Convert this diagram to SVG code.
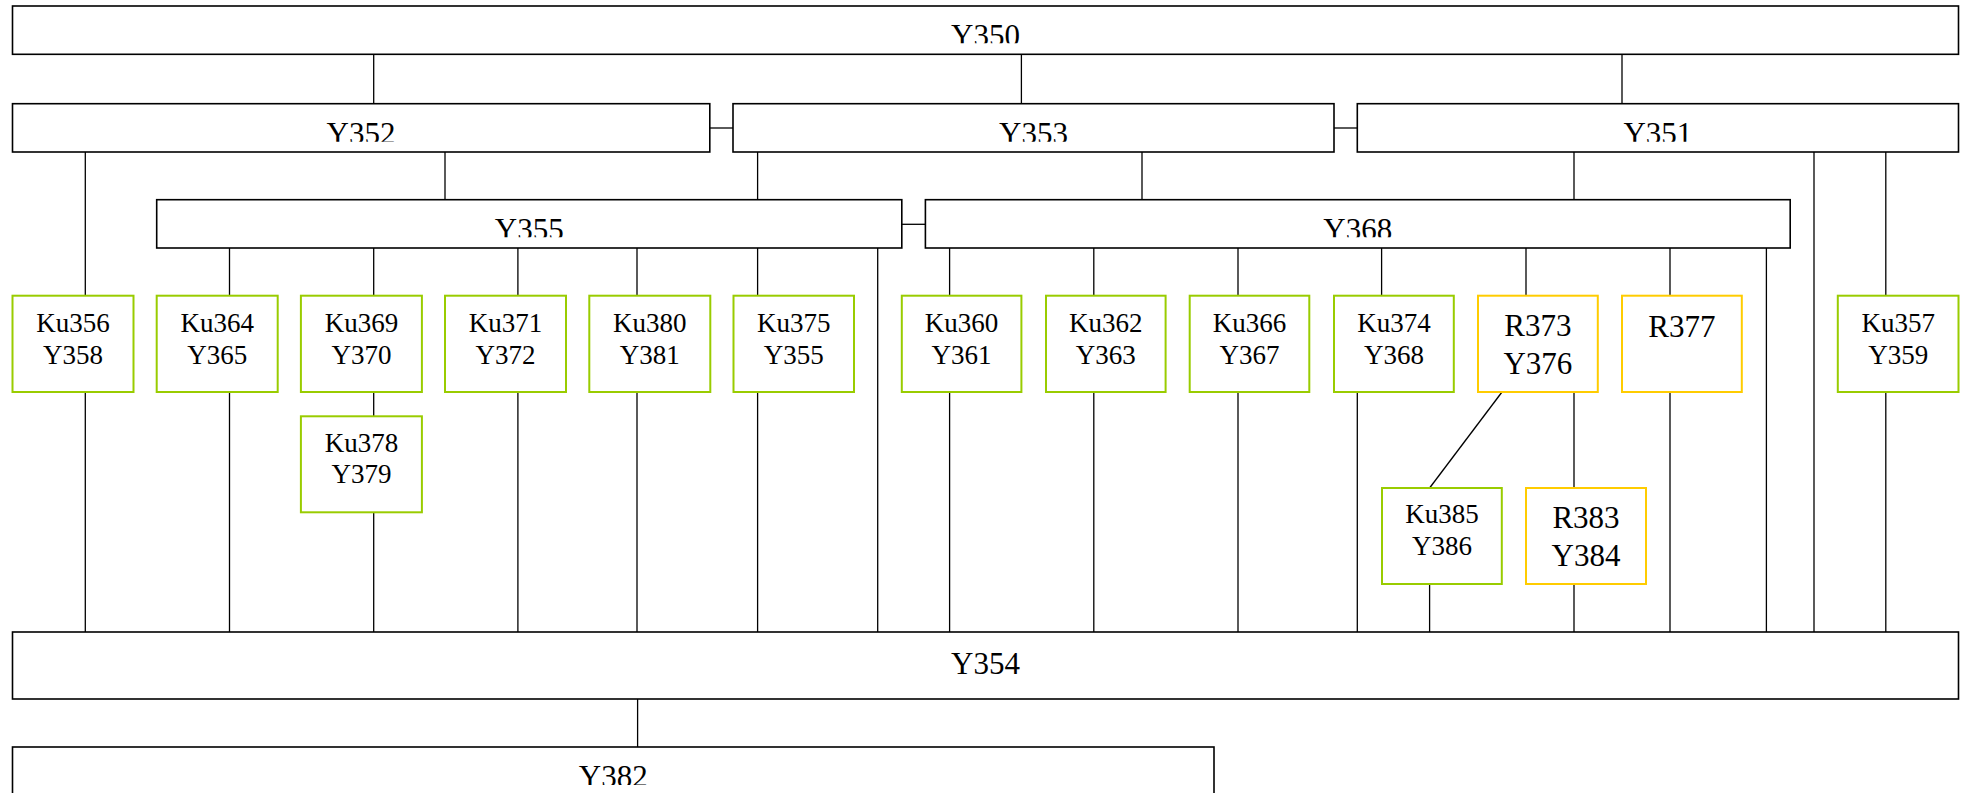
<svg xmlns="http://www.w3.org/2000/svg" width="1966" height="793" viewBox="0 0 1966 793">
<style>
.bx{fill:#fff;stroke:#000;stroke-width:1.6}
.gr{fill:#fff;stroke:#99cc00;stroke-width:2}
.yl{fill:#fff;stroke:#ffcc00;stroke-width:2}
.t{font-family:"Liberation Serif","Times New Roman",serif;font-size:31px;fill:#000;text-anchor:middle}
.k{font-family:"Liberation Serif","Times New Roman",serif;font-size:27px;fill:#000;text-anchor:middle}
.c line{stroke:#000;stroke-width:1.3}
</style>
<defs>
<clipPath id="c1" clipPathUnits="userSpaceOnUse"><rect x="0" y="0" width="1966" height="43.3"/></clipPath>
<clipPath id="c2" clipPathUnits="userSpaceOnUse"><rect x="0" y="100" width="1966" height="41.7"/></clipPath>
<clipPath id="c3" clipPathUnits="userSpaceOnUse"><rect x="0" y="195" width="1966" height="42.3"/></clipPath>
<clipPath id="c4" clipPathUnits="userSpaceOnUse"><rect x="0" y="740" width="1966" height="45"/></clipPath>
</defs>
<g class="c">
<line x1="373.7" y1="54" x2="373.7" y2="103.7"/>
<line x1="1021.4" y1="54" x2="1021.4" y2="103.7"/>
<line x1="1622" y1="54" x2="1622" y2="103.7"/>
<line x1="709.8" y1="128" x2="733" y2="128"/>
<line x1="1334" y1="128" x2="1357.3" y2="128"/>
<line x1="85.3" y1="152" x2="85.3" y2="295.7"/>
<line x1="445" y1="152" x2="445" y2="199.7"/>
<line x1="757.6" y1="152" x2="757.6" y2="199.7"/>
<line x1="1142" y1="152" x2="1142" y2="199.7"/>
<line x1="1574" y1="152" x2="1574" y2="199.7"/>
<line x1="1814" y1="152" x2="1814" y2="632"/>
<line x1="1885.8" y1="152" x2="1885.8" y2="295.7"/>
<line x1="901.8" y1="224.3" x2="925.4" y2="224.3"/>
<line x1="229.5" y1="248" x2="229.5" y2="295.7"/>
<line x1="373.7" y1="248" x2="373.7" y2="295.7"/>
<line x1="517.9" y1="248" x2="517.9" y2="295.7"/>
<line x1="637" y1="248" x2="637" y2="295.7"/>
<line x1="757.6" y1="248" x2="757.6" y2="295.7"/>
<line x1="877.7" y1="248" x2="877.7" y2="632"/>
<line x1="949.6" y1="248" x2="949.6" y2="295.7"/>
<line x1="1093.8" y1="248" x2="1093.8" y2="295.7"/>
<line x1="1238" y1="248" x2="1238" y2="295.7"/>
<line x1="1381.6" y1="248" x2="1381.6" y2="295.7"/>
<line x1="1526" y1="248" x2="1526" y2="295.7"/>
<line x1="1670" y1="248" x2="1670" y2="295.7"/>
<line x1="1766.4" y1="248" x2="1766.4" y2="632"/>
<line x1="85.3" y1="392" x2="85.3" y2="632"/>
<line x1="229.5" y1="392" x2="229.5" y2="632"/>
<line x1="373.7" y1="392" x2="373.7" y2="416.3"/>
<line x1="373.7" y1="512.3" x2="373.7" y2="632"/>
<line x1="517.9" y1="392" x2="517.9" y2="632"/>
<line x1="637" y1="392" x2="637" y2="632"/>
<line x1="757.6" y1="392" x2="757.6" y2="632"/>
<line x1="949.6" y1="392" x2="949.6" y2="632"/>
<line x1="1093.8" y1="392" x2="1093.8" y2="632"/>
<line x1="1238" y1="392" x2="1238" y2="632"/>
<line x1="1357.3" y1="392" x2="1357.3" y2="632"/>
<line x1="1502" y1="392" x2="1429.6" y2="488"/>
<line x1="1574" y1="392" x2="1574" y2="488"/>
<line x1="1429.6" y1="584" x2="1429.6" y2="632"/>
<line x1="1574" y1="584" x2="1574" y2="632"/>
<line x1="1670" y1="392" x2="1670" y2="632"/>
<line x1="1885.8" y1="392" x2="1885.8" y2="632"/>
<line x1="637.6" y1="699" x2="637.6" y2="747"/>
</g>
<g id="n350"><rect class="bx" x="12.5" y="6" width="1946" height="48.3"/><text class="t" x="985.5" y="45.5" clip-path="url(#c1)">Y350</text></g>
<g id="n352"><rect class="bx" x="12.5" y="103.7" width="697.3" height="48.3"/><text class="t" x="361" y="143.8" clip-path="url(#c2)">Y352</text></g>
<g id="n353"><rect class="bx" x="733" y="103.7" width="601" height="48.3"/><text class="t" x="1033.5" y="143.8" clip-path="url(#c2)">Y353</text></g>
<g id="n351"><rect class="bx" x="1357.3" y="103.7" width="601.2" height="48.3"/><text class="t" x="1657.9" y="143.8" clip-path="url(#c2)">Y351</text></g>
<g id="n355"><rect class="bx" x="156.7" y="199.7" width="745.1" height="48.3"/><text class="t" x="529.2" y="239.5" clip-path="url(#c3)">Y355</text></g>
<g id="n368"><rect class="bx" x="925.4" y="199.7" width="864.8" height="48.3"/><text class="t" x="1357.8" y="239.5" clip-path="url(#c3)">Y368</text></g>
<g id="n356"><rect class="gr" x="12.5" y="295.7" width="121" height="96.3"/><text class="k" x="73" y="331.5">Ku356</text><text class="k" x="73" y="363.5">Y358</text></g>
<g id="n364"><rect class="gr" x="156.7" y="295.7" width="121" height="96.3"/><text class="k" x="217.2" y="331.5">Ku364</text><text class="k" x="217.2" y="363.5">Y365</text></g>
<g id="n369"><rect class="gr" x="300.9" y="295.7" width="121" height="96.3"/><text class="k" x="361.4" y="331.5">Ku369</text><text class="k" x="361.4" y="363.5">Y370</text></g>
<g id="n371"><rect class="gr" x="445" y="295.7" width="121" height="96.3"/><text class="k" x="505.5" y="331.5">Ku371</text><text class="k" x="505.5" y="363.5">Y372</text></g>
<g id="n380"><rect class="gr" x="589.3" y="295.7" width="121" height="96.3"/><text class="k" x="649.8" y="331.5">Ku380</text><text class="k" x="649.8" y="363.5">Y381</text></g>
<g id="n375"><rect class="gr" x="733.5" y="295.7" width="120.5" height="96.3"/><text class="k" x="793.8" y="331.5">Ku375</text><text class="k" x="793.8" y="363.5">Y355</text></g>
<g id="n360"><rect class="gr" x="901.8" y="295.7" width="119.6" height="96.3"/><text class="k" x="961.6" y="331.5">Ku360</text><text class="k" x="961.6" y="363.5">Y361</text></g>
<g id="n362"><rect class="gr" x="1046" y="295.7" width="119.6" height="96.3"/><text class="k" x="1105.8" y="331.5">Ku362</text><text class="k" x="1105.8" y="363.5">Y363</text></g>
<g id="n366"><rect class="gr" x="1189.7" y="295.7" width="119.6" height="96.3"/><text class="k" x="1249.5" y="331.5">Ku366</text><text class="k" x="1249.5" y="363.5">Y367</text></g>
<g id="n374"><rect class="gr" x="1334" y="295.7" width="119.8" height="96.3"/><text class="k" x="1393.9" y="331.5">Ku374</text><text class="k" x="1393.9" y="363.5">Y368</text></g>
<g id="n373"><rect class="yl" x="1478" y="295.7" width="119.8" height="96.3"/><text class="t" x="1537.9" y="336">R373</text><text class="t" x="1537.9" y="374.3">Y376</text></g>
<g id="n377"><rect class="yl" x="1622" y="295.7" width="119.8" height="96.3"/><text class="t" x="1681.9" y="337.3">R377</text></g>
<g id="n357"><rect class="gr" x="1837.8" y="295.7" width="120.7" height="96.3"/><text class="k" x="1898.2" y="331.5">Ku357</text><text class="k" x="1898.2" y="363.5">Y359</text></g>
<g id="n378"><rect class="gr" x="300.9" y="416.3" width="121" height="96"/><text class="k" x="361.4" y="451.7">Ku378</text><text class="k" x="361.4" y="482.7">Y379</text></g>
<g id="n385"><rect class="gr" x="1382" y="488" width="119.8" height="96"/><text class="k" x="1441.9" y="523.3">Ku385</text><text class="k" x="1441.9" y="555">Y386</text></g>
<g id="n383"><rect class="yl" x="1526" y="488" width="120" height="96"/><text class="t" x="1586" y="528.3">R383</text><text class="t" x="1586" y="566">Y384</text></g>
<g id="n354"><rect class="bx" x="12.5" y="632" width="1946" height="67"/><text class="t" x="985.5" y="674">Y354</text></g>
<g id="n382"><rect class="bx" x="12.5" y="747" width="1201.5" height="60"/><text class="t" x="613.3" y="787" clip-path="url(#c4)">Y382</text></g>
</svg>
